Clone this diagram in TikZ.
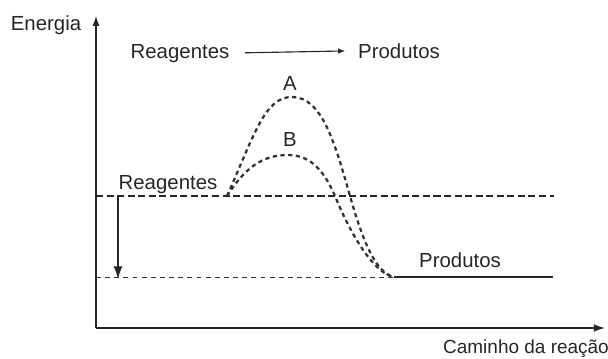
\documentclass[tikz,border=0pt]{standalone}
\usepackage{fontspec}
\setmainfont{Liberation Sans}
\usepackage{tikz}
\usetikzlibrary{arrows,arrows.meta,shapes}
\usetikzlibrary{positioning}
\usetikzlibrary{calc}

\begin{document}
\begin{tikzpicture}
[x=0.025cm,y=0.025cm,
txt/.style={anchor=base,inner sep=0pt,text=black!85,font=\fontsize{14.5}{17}\selectfont},
axis/.style={black!85,line width=0.9pt,-{Latex[length=7pt,width=5pt]}},
level/.style={black!85,line width=1.6pt,dash pattern=on 5pt off 2.5pt},
barrier/.style={black!80,line width=1.6pt,dash pattern=on 3pt off 2.5pt},
thinlevel/.style={black!80,line width=0.6pt,dash pattern=on 3.5pt off 3pt}]
\useasboundingbox (0,0) rectangle (608,358);

\coordinate (O) at (96,30);
\coordinate (ytop) at (96,342);
\coordinate (xend) at (605,30);

\coordinate (r0) at (96,162);
\coordinate (r1) at (554,162);
\coordinate (p0) at (96,81);
\coordinate (pm) at (394,81);
\coordinate (p1) at (553,81);
\coordinate (d0) at (118,162);
\coordinate (d1) at (118,79);

\coordinate (start) at (227,162);
\coordinate (peakA) at (292,261);
\coordinate (peakB) at (288,203);
\coordinate (crossA) at (350,162);
\coordinate (crossB) at (335,162);

\node[txt] (energia) at (46,328) {Energia};
\node[txt] (rtop) at (180,300) {Reagentes};
\node[txt] (ptop) at (399,300) {Produtos};
\node[txt] (labA) at (290,268) {A};
\node[txt] (labB) at (290,212) {B};
\node[txt] (rlow) at (168,169) {Reagentes};
\node[txt] (plow) at (460,91) {Produtos};
\node[txt,font=\fontsize{13.5}{16}\selectfont] (caminho) at (526,5) {Caminho da reação};

% eixos
\draw [axis] (O) -- (ytop);
\draw [axis,-{Latex[length=8pt,width=5.5pt]}] (O) -- (xend);

% niveis de energia
\draw [level] (r0) -- (r1);
\draw [thinlevel] (p0) -- (pm);
\draw [black!85,line width=1.3pt] (pm) -- (p1);
\draw [black!85,line width=1.1pt,-{Latex[length=9pt,width=6.5pt]}] (d0) -- (d1);

% caminhos A e B
\draw [barrier] (start) .. controls (255,225) and (265,261) .. (peakA)
  .. controls (322,261) and (335,215) .. (crossA)
  .. controls (362,120) and (375,85) .. (pm);
\draw [barrier] (start) .. controls (245,190) and (262,203) .. (peakB)
  .. controls (312,203) and (325,185) .. (crossB)
  .. controls (348,130) and (372,85) .. (pm);

\draw [black!85,line width=0.8pt,-{Latex[length=5pt,width=4pt]},shorten <=11pt,shorten >=9pt] (rtop.east) -- (ptop.west);
\end{tikzpicture}
\end{document}
